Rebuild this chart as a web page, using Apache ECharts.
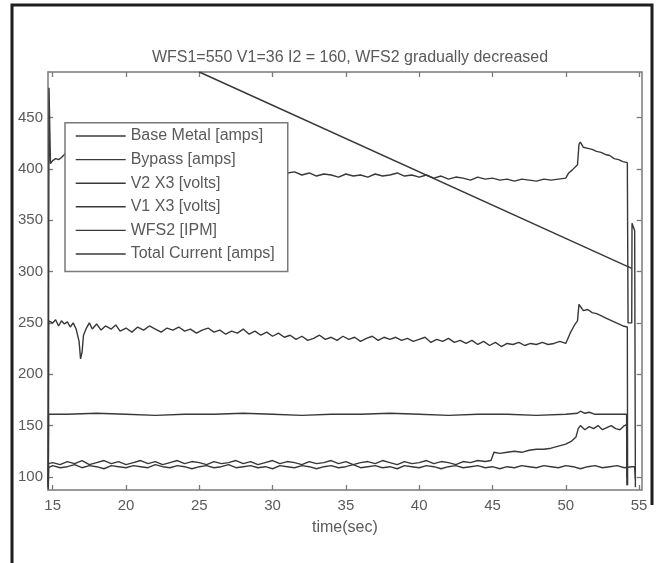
<!DOCTYPE html>
<html>
<head>
<meta charset="utf-8">
<script src="https://cdn.jsdelivr.net/npm/echarts@6/dist/echarts.min.js"></script>
<style>
html,body{margin:0;padding:0;background:#fff;}
#chart{width:656px;height:563px;}
</style>
</head>
<body>
<div id="chart"></div>
<script>
// ---- data (time in s, value) ----
const titleText = 'WFS1=550 V1=36 I2 = 160, WFS2 gradually decreased';
const xTicks = [15, 20, 25, 30, 35, 40, 45, 50, 55];
const yTicks = [100, 150, 200, 250, 300, 350, 400, 450];
const seriesNames = ['Base Metal [amps]', 'Bypass [amps]', 'V2 X3 [volts]', 'V1 X3 [volts]', 'WFS2 [IPM]', 'Total Current [amps]'];

const baseMetal = [[14.70,95],[14.72,252],[15.0,250],[15.2,253],[15.4,247],[15.6,252],[15.8,249],[16.0,251],[16.2,246],[16.4,250],[16.6,244],[16.8,232],[16.9,215],[17.0,221],[17.1,238],[17.3,245],[17.5,250],[17.7,244],[18.0,249],[18.3,243],[18.6,247],[19.0,244],[19.3,248],[19.6,242],[20.0,245],[20.4,241],[20.8,246],[21.2,243],[21.6,247],[22.0,244],[22.4,241],[22.8,245],[23.2,243],[23.6,246],[24.0,242],[24.4,244],[24.8,240],[25.2,243],[25.6,245],[26.0,241],[26.4,243],[26.8,239],[27.2,242],[27.6,240],[28.0,244],[28.4,239],[28.8,242],[29.2,238],[29.6,241],[30.0,237],[30.4,240],[30.8,236],[31.2,238],[31.6,234],[32.0,237],[32.4,233],[32.8,235],[33.2,238],[33.6,234],[34.0,236],[34.4,233],[34.8,237],[35.2,234],[35.6,236],[36.0,232],[36.4,235],[36.8,237],[37.2,233],[37.6,236],[38.0,234],[38.4,236],[38.8,233],[39.2,235],[39.6,232],[40.0,234],[40.4,236],[40.8,231],[41.2,234],[41.6,232],[42.0,235],[42.4,231],[42.8,233],[43.2,230],[43.6,233],[44.0,229],[44.4,232],[44.8,228],[45.2,231],[45.6,227],[46.0,230],[46.4,229],[46.8,231],[47.2,228],[47.6,230],[48.0,229],[48.4,231],[48.8,229],[49.2,230],[49.6,232],[50.0,230],[50.3,240],[50.6,248],[50.8,252],[50.9,268],[51.0,266],[51.2,262],[51.5,263],[51.8,260],[52.1,259],[52.4,257],[52.7,255],[53.0,253],[53.3,251],[53.6,249],[53.9,247],[54.2,246],[54.22,92]];

const bypass = [[14.70,90],[14.72,113],[15,114],[15.5,112],[16,115],[16.5,113],[17,116],[17.5,112],[18,114],[18.5,116],[19,113],[19.5,115],[20,112],[20.5,114],[21,116],[21.5,113],[22,115],[22.5,112],[23,114],[23.5,116],[24,113],[24.5,115],[25,114],[25.5,112],[26,115],[26.5,113],[27,114],[27.5,116],[28,113],[28.5,115],[29,112],[29.5,114],[30,116],[30.5,113],[31,115],[31.5,114],[32,112],[32.5,115],[33,113],[33.5,114],[34,116],[34.5,113],[35,115],[35.5,112],[36,114],[36.5,115],[37,113],[37.5,116],[38,114],[38.5,112],[39,115],[39.5,113],[40,114],[40.5,116],[41,113],[41.5,115],[42,114],[42.5,112],[43,115],[43.5,114],[44,116],[44.5,115],[44.9,116],[45.1,124],[45.5,123],[46,124],[46.5,125],[47,124],[47.5,126],[48,127],[48.5,127],[49,128],[49.5,130],[50,132],[50.4,135],[50.7,139],[50.85,147],[51,150],[51.3,146],[51.6,149],[51.9,147],[52.2,150],[52.5,146],[52.8,148],[53.1,150],[53.4,147],[53.7,146],[54,150],[54.15,151],[54.17,100]];

const v2x3 = [[14.70,92],[14.72,161],[16,161],[18,162],[20,161],[22,160],[24,161],[26,161],[28,162],[30,161],[32,160],[34,161],[36,161],[38,162],[40,161],[42,160],[44,161],[46,161],[48,160],[50,161],[50.8,162],[51,164],[51.3,162],[51.6,163],[52,161],[54.15,161],[54.17,92]];

const v1x3 = [[14.70,88],[14.72,109],[15,111],[15.5,109],[16,110],[16.5,112],[17,109],[17.5,111],[18,110],[18.5,108],[19,111],[19.5,110],[20,109],[20.5,111],[21,110],[21.5,109],[22,112],[22.5,110],[23,109],[23.5,111],[24,110],[24.5,108],[25,110],[25.5,111],[26,109],[26.5,110],[27,112],[27.5,109],[28,110],[28.5,111],[29,109],[29.5,110],[30,108],[30.5,111],[31,110],[31.5,109],[32,111],[32.5,110],[33,108],[33.5,110],[34,111],[34.5,109],[35,110],[35.5,112],[36,109],[36.5,110],[37,111],[37.5,109],[38,110],[38.5,108],[39,111],[39.5,110],[40,109],[40.5,111],[41,110],[41.5,108],[42,110],[42.5,111],[43,109],[43.5,110],[44,111],[44.5,109],[45,110],[45.5,108],[46,110],[46.5,109],[47,111],[47.5,110],[48,109],[48.5,111],[49,110],[49.5,109],[50,111],[50.5,110],[51,108],[51.5,110],[52,111],[52.5,109],[53,110],[53.5,111],[54,109],[54.5,110],[54.7,110],[54.75,98]];

const wfs2 = [[25,494.3],[54.5,303]];

const totalCurrent = [[14.70,90],[14.75,479],[14.80,440],[14.85,405],[15.0,408],[15.2,410],[15.4,409],[15.6,411],[15.8,414],[16.0,418],[16.3,412],[16.5,405],[17,392],[17.5,403],[18,404],[19,402],[20,401],[21,400],[22,401],[23,399],[24,400],[25,398],[26,399],[27,397],[28,398],[29,396],[30,397],[31,396],[31.5,397],[32,394],[32.5,396],[33,393],[33.5,395],[34,394],[34.5,392],[35,395],[35.5,393],[36,394],[36.5,392],[37,395],[37.5,393],[38,394],[38.5,396],[39,393],[39.5,394],[40,392],[40.5,394],[41,391],[41.5,393],[42,390],[42.5,392],[43,391],[43.5,389],[44,392],[44.5,390],[45,391],[45.5,389],[46,390],[46.5,388],[47,390],[47.5,389],[48,388],[48.5,390],[49,389],[49.5,390],[50,391],[50.2,396],[50.45,399],[50.8,404],[50.9,424],[51.0,426],[51.2,421],[51.5,420],[51.8,419],[52.1,417],[52.4,416],[52.7,414],[53.0,413],[53.3,410],[53.6,409],[53.9,407],[54.2,406],[54.25,250],[54.5,250],[54.52,347],[54.7,340],[54.75,90]];

const seriesData = [baseMetal, bypass, v2x3, v1x3, wfs2, totalCurrent];

// ---- chart ----
const chart = echarts.init(document.getElementById('chart'), null, {renderer: 'canvas'});
const FONT = 'Liberation Sans, Arial, Helvetica, sans-serif';
const AX = '#7a7a7a';
const LINE = '#383838';
const TXT = '#5a5a5a';
const xMin = 14.68, xMax = 55.18, yMin = 87.3, yMax = 494.3;

function xAxisCfg(pos, showLabels) {
  return {
    type: 'value', position: pos, min: xMin, max: xMax,
    axisLine: {show: true, onZero: false, lineStyle: {color: AX, width: 1.5}},
    axisTick: {show: true, inside: true, length: 5, customValues: xTicks, lineStyle: {color: AX, width: 1.3}},
    axisLabel: {show: showLabels, customValues: xTicks, margin: 8, color: TXT, fontSize: 15, fontFamily: FONT},
    splitLine: {show: false},
    name: showLabels ? 'time(sec)' : '', nameLocation: 'middle', nameGap: 30,
    nameTextStyle: {color: TXT, fontSize: 16, fontFamily: FONT}
  };
}
function yAxisCfg(pos, showLabels) {
  return {
    type: 'value', position: pos, min: yMin, max: yMax,
    axisLine: {show: true, onZero: false, lineStyle: {color: AX, width: 1.5}},
    axisTick: {show: true, inside: true, length: 5, customValues: yTicks, lineStyle: {color: AX, width: 1.3}},
    axisLabel: {show: showLabels, customValues: yTicks, margin: 5, color: TXT, fontSize: 15, fontFamily: FONT},
    splitLine: {show: false}
  };
}

const option = {
  animation: false,
  backgroundColor: '#fff',
  title: {
    text: titleText, left: 345, top: 45, textAlign: 'center',
    textStyle: {color: TXT, fontSize: 16, fontWeight: 'normal', fontFamily: FONT}
  },
  grid: {left: 48, right: 14.3, top: 72, bottom: 73, containLabel: false},
  xAxis: [xAxisCfg('bottom', true), xAxisCfg('top', false)],
  yAxis: [yAxisCfg('left', true), yAxisCfg('right', false)],
  legend: {
    orient: 'vertical', left: 65, top: 122.7,
    data: seriesNames,
    itemWidth: 50, itemHeight: 14, itemGap: 7.6,
    padding: [5.3, 13, 9.4, 10],
    backgroundColor: '#fff', borderColor: AX, borderWidth: 1.5,
    itemStyle: {opacity: 0, borderWidth: 0},
    lineStyle: {color: LINE, width: 1.4},
    textStyle: {color: TXT, fontSize: 16, lineHeight: 16, fontFamily: FONT},
    selectedMode: false
  },
  graphic: [{
    type: 'polyline', silent: true, z: 100,
    shape: {points: [[12, 563], [12, 5], [652, 5], [652, 505]]},
    style: {stroke: '#1e1e1e', lineWidth: 3, fill: null}
  }],
  series: seriesNames.map((name, i) => ({
    name: name, type: 'line', xAxisIndex: 0, yAxisIndex: 0,
    data: seriesData[i], symbol: 'none', showSymbol: false,
    lineStyle: {color: LINE, width: 1.4}, itemStyle: {color: LINE},
    clip: true
  }))
};
chart.setOption(option);
</script>
</body>
</html>
